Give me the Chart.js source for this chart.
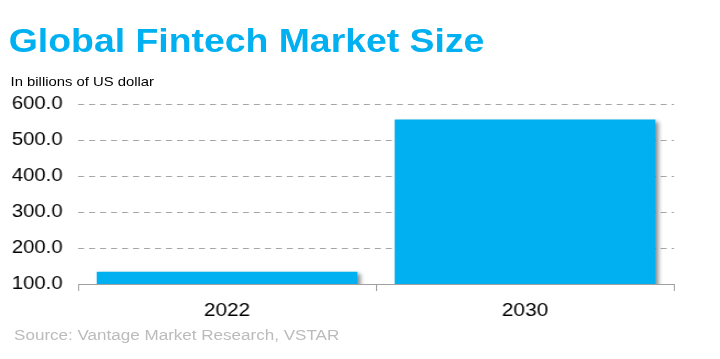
<!DOCTYPE html>
<html>
<head>
<meta charset="utf-8">
<script src="https://cdn.jsdelivr.net/npm/chart.js@4.4.1/dist/chart.umd.min.js"></script>
<style>
  html, body { margin: 0; padding: 0; background: #fff; }
  body { width: 720px; height: 359px; overflow: hidden; position: relative; }
  #wrap { position: absolute; left: 0; top: 0; width: 655px; height: 359px; transform: scaleX(1.0992); transform-origin: 0 0; }
  #c { position: absolute; left: 0; top: 0; }
  .t { position: absolute; white-space: nowrap; font-family: "Liberation Sans", Arial, sans-serif; }
  #title { left: 8px; top: 22.9px; font-size: 34px; line-height: 34px; font-weight: bold; color: #00B0F0; }
  #sub { left: 9.6px; top: 75.2px; font-size: 13.5px; line-height: 14px; color: #000; }
  #src { left: 12.8px; top: 327px; font-size: 15.5px; line-height: 16px; color: #BBBBBB; }
</style>
</head>
<body>
<div id="wrap">
  <canvas id="c" width="655" height="359"></canvas>
  <div class="t" id="title">Global Fintech Market Size</div>
  <div class="t" id="sub">In billions of US dollar</div>
  <div class="t" id="src">Source: Vantage Market Research, VSTAR</div>
</div>
<script>
const categories = ["2022", "2030"];
const marketSize = [133.8, 556.6];
const yTicks = [100, 200, 300, 400, 500, 600];

const shadowPlugin = {
  id: 'barShadow',
  beforeDatasetsDraw(chart) {
    const ctx = chart.ctx;
    ctx.save();
    ctx.shadowColor = 'rgba(0,0,0,0.45)';
    ctx.shadowBlur = 4;
    ctx.shadowOffsetX = 3;
    ctx.shadowOffsetY = 2;
  },
  afterDatasetsDraw(chart) {
    chart.ctx.restore();
  }
};

new Chart(document.getElementById('c'), {
  type: 'bar',
  data: {
    labels: categories,
    datasets: [{
      data: marketSize,
      backgroundColor: '#00B0F0',
      borderWidth: 0,
      categoryPercentage: 1.0,
      barPercentage: 0.875
    }]
  },
  plugins: [shadowPlugin],
  options: {
    responsive: false,
    animation: false,
    devicePixelRatio: 1,
    layout: { padding: { top: 104, right: 41.8, left: 0, bottom: 0 } },
    plugins: { legend: { display: false }, tooltip: { enabled: false } },
    scales: {
      x: {
        offset: true,
        grid: { display: true, drawOnChartArea: false, drawTicks: true, tickLength: 7, color: '#A0A0A0', offset: true },
        border: { display: true, color: '#A0A0A0', width: 1 },
        ticks: { color: '#000', font: { family: '"Liberation Sans", Arial, sans-serif', size: 19 }, padding: 8 },
        afterFit: s => { s.height = 75; }
      },
      y: {
        min: yTicks[0],
        max: yTicks[yTicks.length - 1],
        afterBuildTicks: s => { s.ticks = yTicks.map(v => ({ value: v })); },
        ticks: {
          color: '#000',
          font: { family: '"Liberation Sans", Arial, sans-serif', size: 18.5 },
          padding: 14,
          callback: v => Number(v).toFixed(1)
        },
        grid: { color: '#A6A6A6', drawTicks: false, lineWidth: 1 },
        border: { display: false, dash: [5.5, 4.5] },
        afterFit: s => { s.width = 71; }
      }
    }
  }
});
</script>
</body>
</html>
